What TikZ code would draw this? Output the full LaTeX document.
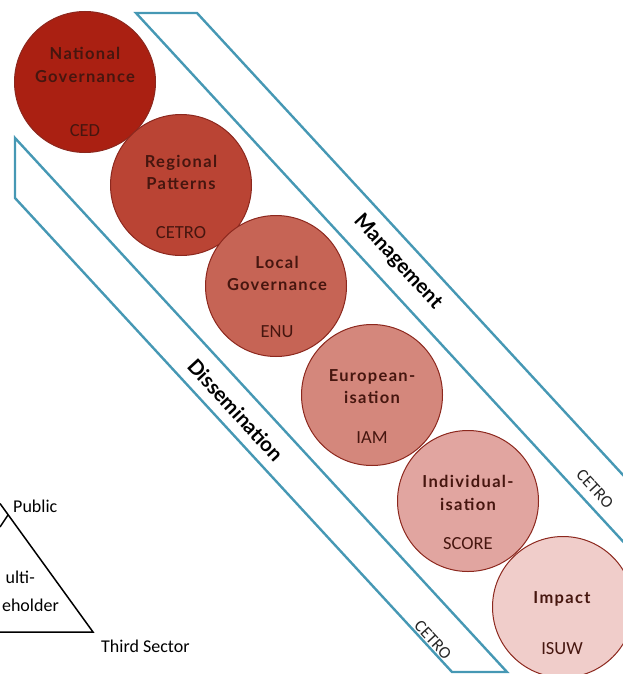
\documentclass[tikz,border=0pt]{standalone}
\usepackage{fontspec}
\setmainfont{Carlito}
\newfontfamily\titlefont[LetterSpace=8]{Lato}
\newfontfamily\bandfont{Lato}
\definecolor{cA}{RGB}{170,32,18}
\definecolor{cB}{RGB}{186,68,52}
\definecolor{cC}{RGB}{198,100,85}
\definecolor{cD}{RGB}{212,135,124}
\definecolor{cE}{RGB}{225,165,160}
\definecolor{cF}{RGB}{240,205,202}
\definecolor{rim}{RGB}{140,40,30}
\definecolor{txt}{RGB}{70,22,15}
\definecolor{bandc}{RGB}{70,152,180}
\tikzset{
  circ/.style={circle, draw=rim, line width=1pt, minimum size=141pt, inner sep=0pt},
  ttl/.style={anchor=base, text=txt, inner sep=0pt, font=\titlefont\bfseries\fontsize{16.5}{20}\selectfont},
  code/.style={anchor=base, text=txt, inner sep=0pt, font=\fontsize{18.5}{20}\selectfont},
  band/.style={draw=bandc, line width=2.4pt, line join=miter},
  bandlabel/.style={rotate=-47.3, inner sep=0pt, font=\bandfont\bfseries\fontsize{20.5}{22}\selectfont},
  bandcode/.style={rotate=-47.3, inner sep=0pt, text=black!85, font=\fontsize{17}{18}\selectfont},
  tri/.style={draw=black, line width=1.5pt},
  plain/.style={inner sep=0pt, font=\fontsize{18}{20}\selectfont}
}
\begin{document}
\begin{tikzpicture}[x=1pt,y=-1pt]
\useasboundingbox (0,0) rectangle (623,674);
\clip (0,0) rectangle (623,674);
% bands
\coordinate (m1) at (136,13);
\coordinate (m2) at (197,13);
\coordinate (m3) at (700,558.5);
\coordinate (m4) at (700,625);
\draw[band] (m4) -- (m1) -- (m2) -- (m3);
\coordinate (d1) at (15,138);
\coordinate (d2) at (507,672);
\coordinate (d3) at (452,672);
\coordinate (d4) at (15,198);
\draw[band] (d1) -- (d2) -- (d3) -- (d4) -- cycle;
\node[bandlabel] (lm) at (398,262) {Management};
\node[bandlabel] (ld) at (236,410) {Dissemination};
\node[bandcode] (cm) at (595,489) {CETRO};
\node[bandcode] (cd) at (433,640) {CETRO};
% circles
\node[circ, fill=cA] (k1) at (85,82) {};
\node[circ, fill=cB] (k2) at (181,185) {};
\node[circ, fill=cC] (k3) at (276,286) {};
\node[circ, fill=cD] (k4) at (372,395) {};
\node[circ, fill=cE] (k5) at (468,501) {};
\node[circ, fill=cF] (k6) at (563,607) {};
\node[ttl] (t1a) at (85,60) {National};
\node[ttl] (t1b) at (85,83) {Governance};
\node[code] (t1c) at (85,136) {CED};
\node[ttl] (t2a) at (181,167) {Regional};
\node[ttl] (t2b) at (181,189) {Patterns};
\node[code] (t2c) at (181,238) {CETRO};
\node[ttl] (t3a) at (277,268) {Local};
\node[ttl] (t3b) at (277,290) {Governance};
\node[code] (t3c) at (277,337) {ENU};
\node[ttl] (t4a) at (372,381) {European-};
\node[ttl] (t4b) at (372,403) {isation};
\node[code] (t4c) at (372,443) {IAM};
\node[ttl] (t5a) at (468,487) {Individual-};
\node[ttl] (t5b) at (468,510) {isation};
\node[code] (t5c) at (468,549) {SCORE};
\node[ttl] (t6a) at (562,603) {Impact};
\node[code] (t6c) at (562,654) {ISUW};
% triangle
\coordinate (a0) at (0,503.5);
\coordinate (a1) at (8,515);
\coordinate (a2) at (0,527);
\coordinate (b1) at (93,632);
\coordinate (b0) at (0,632);
\draw[tri] (a0) -- (b1) -- (b0);
\draw[tri] (a1) -- (a2);
\node[plain, anchor=base west] (pub) at (13,512) {Public};
\node[plain, anchor=base west] (third) at (101,652) {Third Sector};
\node[plain, anchor=base east] (mu) at (35,583) {ulti-};
\node[plain, anchor=base east] (st) at (59,611) {eholder};
\end{tikzpicture}
\end{document}
